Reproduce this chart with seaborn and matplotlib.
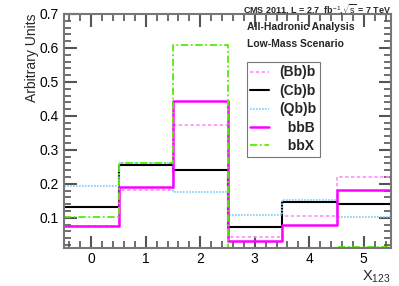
import numpy as np
import pandas as pd
import matplotlib
matplotlib.use("Agg")
import matplotlib.pyplot as plt
from matplotlib.ticker import MultipleLocator
import seaborn as sns

# bin centres of the X123 histogram
bins = [0, 1, 2, 3, 4, 5]

# normalised yields per bin
bbb_b = [0.076, 0.183, 0.373, 0.042, 0.104, 0.219]   # (Bb)b
cb_b = [0.132, 0.255, 0.242, 0.074, 0.146, 0.142]    # (Cb)b
qb_b = [0.193, 0.262, 0.175, 0.109, 0.152, 0.103]    # (Qb)b
bbB = [0.076, 0.191, 0.444, 0.031, 0.078, 0.181]
bbX = [0.103, 0.260, 0.610, 0.011, 0.012, 0.013]

series = [
    ("(Bb)b", bbb_b, "#ff8cff", (0, (2, 1.5)), 1.2),
    ("(Cb)b", cb_b, "black", "-", 1.5),
    ("(Qb)b", qb_b, "#7fccff", (0, (1, 0.8)), 1.2),
    ("  bbB", bbB, "#ff00ff", "-", 1.8),
    ("  bbX", bbX, "#55ee00", (0, (4, 1.5, 1, 1.5)), 1.3),
]

sns.set_style("ticks")
plt.rcParams['font.family'] = ['Liberation Sans', 'DejaVu Sans']
plt.rcParams['mathtext.fontset'] = 'custom'
plt.rcParams['mathtext.rm'] = 'Liberation Sans'
plt.rcParams['mathtext.bf'] = 'Liberation Sans:bold'

W, H = 399, 286
fig, ax = plt.subplots(figsize=(3.99, 2.86), dpi=100)
fig.subplots_adjust(left=64 / W, right=391 / W, top=1 - 14 / H,
                    bottom=1 - 248 / H)

for name, vals, col, ls, lw in series:
    df = pd.DataFrame({'x': bins, 'w': vals})
    sns.histplot(data=df, x='x', weights='w', binwidth=1, binrange=(-0.5, 5.5),
                 element='step', fill=False, color=col, linestyle=ls,
                 linewidth=lw, label=name, ax=ax)

ax.set_xlim(-0.5, 5.5)
ax.set_ylim(0.011, 0.7)
ax.set_xlabel('')
ax.set_ylabel('')

# ROOT-like frame and ticks
for sp in ax.spines.values():
    sp.set_visible(True)
    sp.set_color('#777777')
    sp.set_linewidth(1.5)
ax.set_yticks([0.1, 0.2, 0.3, 0.4, 0.5, 0.6, 0.7])
ax.set_yticklabels(['0.1', '0.2', '0.3', '0.4', '0.5', '0.6', '0.7'])
ax.xaxis.set_major_locator(MultipleLocator(1))
ax.xaxis.set_minor_locator(MultipleLocator(0.2))
ax.yaxis.set_minor_locator(MultipleLocator(0.02))
ax.tick_params(which='both', direction='in', top=True, right=True,
               bottom=True, left=True, colors='#555555', labelcolor='black',
               labelsize=10)
ax.tick_params(which='major', length=9, width=1.5)
ax.tick_params(which='minor', length=5, width=1.2)
ax.tick_params(axis='x', which='major', pad=3)
ax.tick_params(axis='y', which='major', pad=4)

fig.text(32 / W, 1 - 14 / H, 'Arbitrary Units', rotation=90,
         ha='center', va='top', fontsize=10)
fig.text(391 / W, 1 - 285 / H, r'X$_{123}$', ha='right', va='bottom',
         fontsize=10.5)
fig.text(391 / W, 1 - 2 / H,
         r'CMS 2011, L = 2.7  fb$^{-1}$,$\sqrt{\rm s}$ = 7 TeV',
         ha='right', va='top', fontsize=6.5, fontweight='bold')
ax.text(0.56, 0.944, 'All-Hadronic Analysis', transform=ax.transAxes,
        ha='left', va='center', fontsize=7.5, fontweight='bold')
ax.text(0.56, 0.872, 'Low-Mass Scenario', transform=ax.transAxes,
        ha='left', va='center', fontsize=7.5, fontweight='bold')

aw, ah = 327, 234
leg = ax.legend(loc='upper left',
                bbox_to_anchor=((247 - 64) / aw, (248 - 62) / ah),
                frameon=True, fancybox=False, edgecolor='#555555',
                prop={'weight': 'bold', 'size': 10}, handlelength=1.3,
                handletextpad=0.8, borderpad=0.25, labelspacing=0.32,
                borderaxespad=0)
leg.get_frame().set_linewidth(0.8)

fig.savefig('out.png', dpi=100)
